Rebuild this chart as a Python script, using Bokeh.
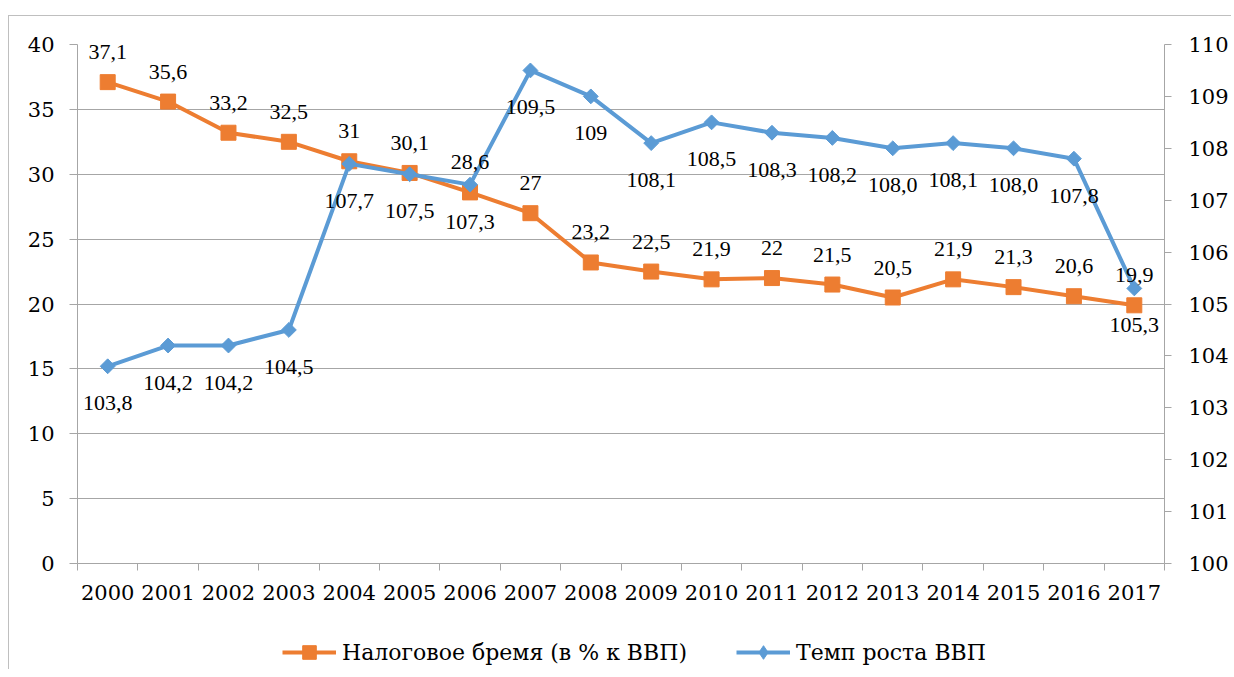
import math
from bokeh.plotting import figure
from bokeh.layouts import column
from bokeh.models import (Range1d, LinearAxis, FixedTicker, ColumnDataSource,
                          LabelSet, Legend, LegendItem)
from bokeh.embed import file_html
from bokeh.resources import INLINE

years = list(range(2000, 2018))
tax_burden = [37.1, 35.6, 33.2, 32.5, 31, 30.1, 28.6, 27, 23.2, 22.5, 21.9, 22,
              21.5, 20.5, 21.9, 21.3, 20.6, 19.9]
tax_labels = ["37,1", "35,6", "33,2", "32,5", "31", "30,1", "28,6", "27", "23,2",
              "22,5", "21,9", "22", "21,5", "20,5", "21,9", "21,3", "20,6", "19,9"]
gdp_growth = [103.8, 104.2, 104.2, 104.5, 107.7, 107.5, 107.3, 109.5, 109, 108.1,
              108.5, 108.3, 108.2, 108.0, 108.1, 108.0, 107.8, 105.3]
gdp_labels = ["103,8", "104,2", "104,2", "104,5", "107,7", "107,5", "107,3", "109,5",
              "109", "108,1", "108,5", "108,3", "108,2", "108,0", "108,1", "108,0",
              "107,8", "105,3"]
left_ticks = [0, 5, 10, 15, 20, 25, 30, 35, 40]
right_ticks = [100, 101, 102, 103, 104, 105, 106, 107, 108, 109, 110]
series_names = ["Налоговое бремя (в % к ВВП)", "Темп роста ВВП"]

ORANGE = "#ED7D31"
BLUE = "#5B9BD5"
GRID = "#a6a6a6"
FONT = "DejaVu Serif"
FS = "21px"
FS_LBL = "22px"
W = 1222

src = ColumnDataSource(dict(x=years, tax=tax_burden, tax_lbl=tax_labels,
                            gdp=gdp_growth, gdp_lbl=gdp_labels))

p = figure(width=W, height=604, output_backend="svg", toolbar_location=None,
           x_range=Range1d(years[0] - 0.5, years[-1] + 0.5),
           y_range=Range1d(left_ticks[0], left_ticks[-1]),
           min_border_left=68, min_border_right=65, min_border_top=28,
           min_border_bottom=57)
p.extra_y_ranges = {"r": Range1d(right_ticks[0], right_ticks[-1])}
p.outline_line_color = None
p.background_fill_color = "white"
p.border_fill_color = "white"

# x axis
xa = p.xaxis[0]
xa.ticker = FixedTicker(ticks=years, minor_ticks=[y - 0.5 for y in years] + [years[-1] + 0.5])
xa.major_label_overrides = {y: str(y) for y in years}
xa.major_tick_line_color = None
xa.minor_tick_line_color = GRID
xa.minor_tick_in = 0
xa.minor_tick_out = 7
xa.axis_line_color = GRID
xa.major_label_text_font = FONT
xa.major_label_text_font_size = FS
xa.major_label_text_color = "black"
xa.major_label_standoff = 14

# left y axis
ya = p.yaxis[0]
ya.ticker = FixedTicker(ticks=left_ticks)
ya.major_tick_line_color = GRID
ya.major_tick_in = 0
ya.major_tick_out = 8
ya.minor_tick_line_color = None
ya.axis_line_color = GRID
ya.major_label_text_font = FONT
ya.major_label_text_font_size = FS
ya.major_label_text_color = "black"
ya.major_label_standoff = 15

# right y axis
ra = LinearAxis(y_range_name="r", ticker=FixedTicker(ticks=right_ticks))
ra.major_tick_line_color = GRID
ra.major_tick_in = 0
ra.major_tick_out = 7
ra.minor_tick_line_color = None
ra.axis_line_color = GRID
ra.major_label_text_font = FONT
ra.major_label_text_font_size = FS
ra.major_label_text_color = "black"
ra.major_label_standoff = 17
p.add_layout(ra, "right")

p.xgrid.visible = False
p.ygrid.ticker = FixedTicker(ticks=left_ticks)
p.ygrid.grid_line_color = GRID
p.ygrid.grid_line_width = 1

# series
p.line("x", "tax", source=src, line_color=ORANGE, line_width=4)
p.scatter("x", "tax", source=src, marker="square", size=15,
          fill_color=ORANGE, line_color=ORANGE)
p.line("x", "gdp", source=src, y_range_name="r", line_color=BLUE, line_width=4)
p.scatter("x", "gdp", source=src, y_range_name="r", marker="square",
          angle=math.pi / 4, size=10.5, fill_color=BLUE, line_color=BLUE)

p.add_layout(LabelSet(x="x", y="tax", text="tax_lbl", source=src, y_offset=30,
                      text_align="center", text_baseline="middle",
                      text_font=FONT, text_font_size=FS_LBL, text_color="black"))
p.add_layout(LabelSet(x="x", y="gdp", text="gdp_lbl", source=src, y_range_name="r",
                      y_offset=-37, text_align="center", text_baseline="middle",
                      text_font=FONT, text_font_size=FS_LBL, text_color="black"))

# legend strip below the chart (its renderers lie outside its own visible ranges)
lp = figure(width=W, height=49, output_backend="svg", toolbar_location=None,
            x_range=Range1d(0, 1), y_range=Range1d(0, 1),
            x_axis_location=None, y_axis_location=None,
            min_border_left=0, min_border_right=0, min_border_top=0, min_border_bottom=0)
lp.outline_line_color = None
lp.xgrid.visible = False
lp.ygrid.visible = False
lg1 = lp.line("x", "tax", source=src, line_color=ORANGE, line_width=4)
lm1 = lp.scatter("x", "tax", source=src, marker="square", size=15,
                 fill_color=ORANGE, line_color=ORANGE)
lg2 = lp.line("x", "gdp", source=src, line_color=BLUE, line_width=4)
lm2 = lp.scatter("x", "gdp", source=src, marker="diamond", size=15,
                 fill_color=BLUE, line_color=BLUE)
legend = Legend(items=[LegendItem(label=series_names[0], renderers=[lg1, lm1]),
                       LegendItem(label=series_names[1], renderers=[lg2, lm2])],
                orientation="horizontal", location=(205, 0),
                label_text_font=FONT, label_text_font_size=FS_LBL,
                label_text_color="black",
                glyph_width=54, glyph_height=34, label_standoff=6, spacing=49,
                border_line_color=None, background_fill_alpha=0, padding=4,
                margin=0)
lp.add_layout(legend, "center")

layout = column(p, lp, margin=(15, 0, 0, 8),
                styles={"border-top": "1px solid #bfbfbf", "border-left": "1px solid #bfbfbf"})

open("out.html", "w").write(file_html(layout, INLINE))
